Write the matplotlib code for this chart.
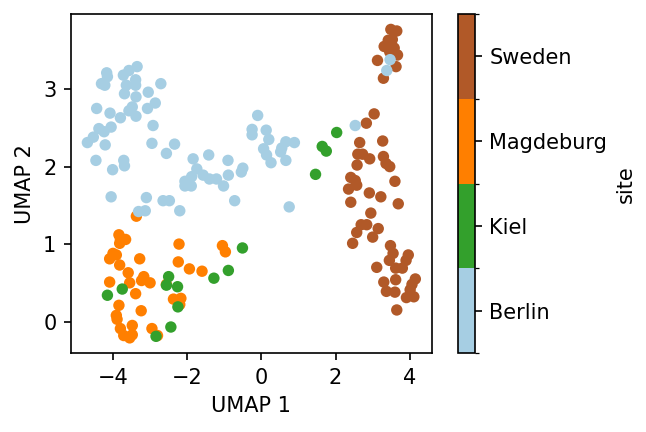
import numpy as np
import matplotlib
matplotlib.use('Agg')
import matplotlib.pyplot as plt
from matplotlib.colors import ListedColormap, BoundaryNorm

sites = ['Berlin', 'Kiel', 'Magdeburg', 'Sweden']
site_colors = ['#a6cee3', '#33a02c', '#ff7f00', '#b15928']

berlin_x = [-4.17, -4.15, -4.31, -4.22, -3.72, -3.57, -3.35, -3.39, -3.64, -3.39,
            -3.69, -3.38, -3.05, -2.71, -4.44, -4.08, -3.48, -3.57, -3.38, -3.80,
            -3.07, -2.86, -2.92, -4.38, -4.05, -4.24, -4.53, -4.69, -4.21, -2.95,
            -2.34, -2.56, -4.46, -3.71, -3.69, -4.01, -1.84, -1.42, -1.74, -0.90,
            -0.54, -0.50, -0.89, -2.06, -1.88, -2.06, -1.89, -1.57, -1.40, -1.21,
            -1.02, -4.05, -3.10, -2.65, -2.48, -0.72, -2.20, -3.31, -3.13, -0.10,
            -0.25, -0.25, 0.13, 0.20, 0.06, 0.14, 0.26, 0.66, 0.89, 0.55,
            0.52, 0.66, 0.75, 3.47, 3.38, 2.53]
berlin_y = [3.21, 3.16, 3.07, 3.05, 3.18, 3.24, 3.29, 3.12, 3.05, 3.05,
            2.94, 2.90, 2.96, 3.07, 2.75, 2.69, 2.77, 2.72, 2.65, 2.63,
            2.75, 2.82, 2.53, 2.49, 2.51, 2.45, 2.38, 2.31, 2.28, 2.30,
            2.29, 2.17, 2.08, 2.08, 2.01, 1.96, 2.10, 2.15, 1.97, 2.08,
            1.93, 1.98, 1.89, 1.81, 1.87, 1.75, 1.75, 1.89, 1.84, 1.84,
            1.75, 1.61, 1.60, 1.56, 1.56, 1.56, 1.43, 1.42, 1.43, 2.66,
            2.48, 2.41, 2.47, 2.35, 2.23, 2.15, 2.05, 2.32, 2.31, 2.24,
            2.19, 2.08, 1.48, 3.38, 3.24, 2.53]

kiel_x = [2.03, 1.64, 1.75, 1.46, -0.51, -0.89, -1.28, -2.50, -2.56, -2.26,
          -3.75, -4.15, -2.25, -2.44, -2.84]
kiel_y = [2.44, 2.26, 2.20, 1.90, 0.95, 0.66, 0.56, 0.58, 0.47, 0.45,
          0.42, 0.34, 0.19, -0.07, -0.19]

magdeburg_x = [-3.84, -3.80, -3.66, -3.82, -3.37, -4.00, -3.91, -4.09, -3.82, -3.28,
               -2.22, -2.24, -1.05, -0.97, -1.94, -1.60, -3.59, -3.17, -3.23, -3.00,
               -3.55, -4.09, -2.56, -3.39, -2.37, -2.17, -2.20, -3.84, -3.24, -3.91,
               -3.89, -3.80, -3.48, -3.71, -3.48, -3.55, -2.95, -2.80]
magdeburg_y = [1.12, 1.06, 1.06, 1.01, 1.36, 0.88, 0.86, 0.81, 0.73, 0.81,
               1.00, 0.77, 0.98, 0.90, 0.68, 0.65, 0.63, 0.58, 0.53, 0.50,
               0.50, 0.51, 0.48, 0.36, 0.29, 0.30, 0.22, 0.21, 0.14, 0.08,
               0.03, -0.09, -0.05, -0.18, -0.17, -0.21, -0.09, -0.18]

sweden_x = [3.49, 3.65, 3.42, 3.53, 3.31, 3.58, 3.46, 3.67, 3.13, 3.63,
            3.29, 3.04, 2.83, 2.65, 3.27, 2.60, 2.73, 2.92, 3.29, 3.36,
            3.46, 2.58, 3.60, 2.41, 2.53, 2.57, 2.35, 2.91, 3.22, 2.41,
            3.69, 2.95, 2.69, 2.84, 2.57, 3.15, 3.00, 2.46, 3.48, 3.55,
            3.96, 3.90, 3.45, 3.62, 3.80, 3.11, 4.15, 3.62, 4.06, 3.30,
            3.37, 3.60, 4.01, 3.91, 4.11, 3.65]
sweden_y = [3.77, 3.75, 3.63, 3.64, 3.55, 3.53, 3.48, 3.44, 3.37, 3.29,
            3.14, 2.68, 2.56, 2.31, 2.33, 2.16, 2.16, 2.10, 2.13, 2.04,
            2.00, 2.02, 1.81, 1.86, 1.82, 1.76, 1.71, 1.66, 1.61, 1.54,
            1.52, 1.40, 1.25, 1.25, 1.15, 1.20, 1.09, 1.01, 0.98, 0.88,
            0.86, 0.79, 0.79, 0.69, 0.69, 0.70, 0.55, 0.54, 0.48, 0.51,
            0.39, 0.38, 0.41, 0.31, 0.32, 0.15]

# drawing order: Sweden, Magdeburg, Kiel, Berlin on top
groups = [(3, sweden_x, sweden_y), (2, magdeburg_x, magdeburg_y),
          (1, kiel_x, kiel_y), (0, berlin_x, berlin_y)]
x = np.concatenate([g[1] for g in groups])
y = np.concatenate([g[2] for g in groups])
code = np.concatenate([[g[0]] * len(g[1]) for g in groups])

cmap = ListedColormap(site_colors)
bounds = np.arange(-0.5, len(sites), 1.0)
norm = BoundaryNorm(bounds, cmap.N)

fig = plt.figure(figsize=(6.46 / 1.5, 4.32 / 1.5), dpi=150)
ax = fig.add_axes([0.1099, 0.1822, 0.5584, 0.7854])
cax = fig.add_axes([0.7085, 0.1822, 0.0263, 0.7854])

sc = ax.scatter(x, y, c=code, cmap=cmap, norm=norm, s=30, linewidths=0)
ax.set_xlabel('UMAP 1')
ax.set_ylabel('UMAP 2')

cb = fig.colorbar(sc, cax=cax)
cb.set_ticks(range(len(sites)))
cb.set_ticklabels(sites)
cb.ax.yaxis.set_ticks(bounds, minor=True)
cb.set_label('site')

fig.savefig('out.png', dpi=150)
